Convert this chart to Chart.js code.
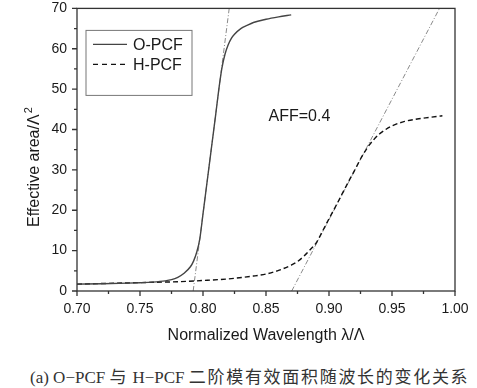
<!DOCTYPE html>
<html lang="en">
<head>
  <meta charset="UTF-8" />
  <title>O-PCF / H-PCF effective area</title>
  <script src="https://cdn.jsdelivr.net/npm/chart.js"></script>
  <style>
    body { margin: 0; background: #fff; }
    .wrap { position: relative; width: 477px; height: 388px; }
    #chart { position: absolute; left: 0; top: 0; }
    .caption {
      position: absolute; left: 30px; top: 363px; white-space: nowrap;
      font-family: "Liberation Serif", "DejaVu Serif", "Noto Sans CJK SC", serif;
      font-size: 17px; color: #333;
    }
    .caption .cjk { letter-spacing: 1.7px; }
  </style>
</head>
<body>
  <div class="wrap">
    <canvas id="chart" width="477" height="350"></canvas>
    <div class="caption">(a) O−PCF <span class="cjk">与</span> H−PCF <span class="cjk">二阶模有效面积随波长的变化关系</span></div>
  </div>

  <script>
    // values
    const oWave = [0.70, 0.72, 0.74, 0.75, 0.76, 0.77, 0.775, 0.78, 0.785, 0.79, 0.7925, 0.795, 0.7975,
                   0.80, 0.8025, 0.805, 0.8075, 0.81, 0.8125, 0.815, 0.8175, 0.82, 0.8225, 0.825,
                   0.83, 0.835, 0.84, 0.85, 0.86, 0.87];
    const oArea = [1.7, 1.8, 1.95, 2.05, 2.2, 2.5, 2.8, 3.4, 4.4, 6.0, 7.4, 9.6, 13.0,
                   19.1, 25.2, 31.3, 37.4, 43.5, 49.8, 55.2, 58.7, 61.0, 62.6, 63.6,
                   65.0, 65.8, 66.5, 67.3, 67.9, 68.4];

    const hWave = [0.70, 0.72, 0.74, 0.76, 0.78, 0.80, 0.82, 0.84, 0.85, 0.86, 0.87, 0.875, 0.88, 0.885,
                   0.89, 0.895, 0.90, 0.905, 0.91, 0.915, 0.92, 0.925, 0.93, 0.935, 0.94, 0.945,
                   0.95, 0.96, 0.97, 0.98, 0.99];
    const hArea = [1.7, 1.85, 2.0, 2.15, 2.3, 2.6, 3.0, 3.7, 4.2, 5.1, 6.4, 7.3, 8.6, 10.2,
                   12.0, 14.9, 17.9, 20.8, 23.8, 26.8, 29.7, 32.7, 35.3, 37.3, 38.9, 40.0,
                   40.9, 42.0, 42.6, 43.0, 43.4];

    // fitted straight lines (dash-dot)
    const oTangentWave = [0.7922, 0.8208];
    const hTangentWave = [0.8704, 0.9877];
    const tangentArea = [0, 70];

    const xTicks = [0.70, 0.75, 0.80, 0.85, 0.90, 0.95, 1.00];
    const yTicks = [0, 10, 20, 30, 40, 50, 60, 70];

    const seriesNames = ['O-PCF', 'H-PCF'];
    const yTitle = 'Effective area/Λ';
    const yTitleSup = '2';
    const noteText = 'AFF=0.4';
    const notePos = [0.8765, 43.2];

    const toPoints = (xs, ys) => xs.map((x, i) => ({ x: x, y: ys[i] }));

    const FONT = '"Liberation Sans", Arial, sans-serif';
    Chart.defaults.font.family = FONT;
    Chart.defaults.color = '#1a1a1a';

    // box around the plot + outward major/minor ticks
    const framePlugin = {
      id: 'frame',
      afterDraw(chart) {
        const { ctx, chartArea: a, scales: { x, y } } = chart;
        ctx.save();
        ctx.strokeStyle = '#333';
        ctx.lineWidth = 1.3;
        ctx.strokeRect(a.left, a.top, a.right - a.left, a.bottom - a.top);
        ctx.beginPath();
        for (let i = 0; i < xTicks.length; i++) {
          const px = x.getPixelForValue(xTicks[i]);
          ctx.moveTo(px, a.bottom); ctx.lineTo(px, a.bottom + 5);
          if (i < xTicks.length - 1) {
            const mx = x.getPixelForValue((xTicks[i] + xTicks[i + 1]) / 2);
            ctx.moveTo(mx, a.bottom); ctx.lineTo(mx, a.bottom + 3);
          }
        }
        for (let i = 0; i < yTicks.length; i++) {
          const py = y.getPixelForValue(yTicks[i]);
          ctx.moveTo(a.left, py); ctx.lineTo(a.left - 5, py);
          if (i < yTicks.length - 1) {
            const my = y.getPixelForValue((yTicks[i] + yTicks[i + 1]) / 2);
            ctx.moveTo(a.left, my); ctx.lineTo(a.left - 3, my);
          }
        }
        ctx.stroke();

        // y title with a raised 2
        ctx.translate(a.left - 42, (a.top + a.bottom) / 2 + 21);
        ctx.rotate(-Math.PI / 2);
        ctx.fillStyle = '#1a1a1a';
        ctx.textBaseline = 'middle';
        ctx.font = '16px ' + FONT;
        const w = ctx.measureText(yTitle).width;
        ctx.fillText(yTitle, -w / 2, 0);
        ctx.font = '11px ' + FONT;
        ctx.fillText(yTitleSup, w / 2 + 1, -6);
        ctx.restore();
      }
    };

    // framed legend in the upper left corner, plus the AFF note
    const legendPlugin = {
      id: 'boxLegend',
      afterDatasetsDraw(chart) {
        const { ctx, chartArea: a, scales: { x, y } } = chart;
        const bx = a.left + 9, by = a.top + 22, bw = 106, bh = 65;
        ctx.save();
        ctx.fillStyle = '#fff';
        ctx.fillRect(bx, by, bw, bh);
        ctx.strokeStyle = '#777';
        ctx.lineWidth = 1;
        ctx.strokeRect(bx, by, bw, bh);
        ctx.font = '16px ' + FONT;
        ctx.textBaseline = 'middle';
        seriesNames.forEach((name, i) => {
          const ds = chart.data.datasets[i];
          const ly = by + 14 + i * 20;
          ctx.beginPath();
          ctx.strokeStyle = ds.borderColor;
          ctx.lineWidth = ds.borderWidth;
          ctx.setLineDash(ds.borderDash ? [5, 4] : []);
          ctx.moveTo(bx + 7, ly); ctx.lineTo(bx + 41, ly);
          ctx.stroke();
          ctx.setLineDash([]);
          ctx.fillStyle = '#1a1a1a';
          ctx.fillText(name, bx + 47, ly + 1);
        });
        ctx.textAlign = 'center';
        ctx.fillText(noteText, x.getPixelForValue(notePos[0]), y.getPixelForValue(notePos[1]));
        ctx.restore();
      }
    };

    new Chart(document.getElementById('chart'), {
      type: 'scatter',
      data: {
        datasets: [
          { label: seriesNames[0], data: toPoints(oWave, oArea), showLine: true,
            borderColor: '#444', borderWidth: 1.4, pointRadius: 0, cubicInterpolationMode: 'monotone' },
          { label: seriesNames[1], data: toPoints(hWave, hArea), showLine: true,
            borderColor: '#111', borderWidth: 1.4, borderDash: [5, 3], pointRadius: 0, cubicInterpolationMode: 'monotone' },
          { label: 'O-PCF fit', data: toPoints(oTangentWave, tangentArea), showLine: true,
            borderColor: '#8a8a8a', borderWidth: 1, borderDash: [5, 2, 1, 2], pointRadius: 0 },
          { label: 'H-PCF fit', data: toPoints(hTangentWave, tangentArea), showLine: true,
            borderColor: '#8a8a8a', borderWidth: 1, borderDash: [5, 2, 1, 2], pointRadius: 0 }
        ]
      },
      options: {
        responsive: false,
        animation: false,
        layout: { padding: { top: 7, right: 22, left: 0, bottom: 0 } },
        plugins: {
          legend: { display: false },
          tooltip: { enabled: false }
        },
        scales: {
          x: {
            type: 'linear', min: 0.7, max: 1.0,
            afterBuildTicks: (s) => { s.ticks = xTicks.map(v => ({ value: v })); },
            afterFit: (s) => { s.height = 59; },
            ticks: { callback: v => v.toFixed(2), font: { size: 14 }, padding: 0, maxRotation: 0, autoSkip: false },
            grid: { display: false, drawTicks: true, tickLength: 10 },
            border: { display: false },
            title: { display: true, text: 'Normalized Wavelength λ/Λ', font: { size: 16 }, padding: { top: 4, bottom: 5 } }
          },
          y: {
            type: 'linear', min: 0, max: 70,
            afterBuildTicks: (s) => { s.ticks = yTicks.map(v => ({ value: v })); },
            afterFit: (s) => { s.width = 77; },
            ticks: { font: { size: 14 }, padding: 0, autoSkip: false },
            grid: { display: false, drawTicks: true, tickLength: 10 },
            border: { display: false },
            title: { display: false }
          }
        }
      },
      plugins: [framePlugin, legendPlugin]
    });
  </script>
</body>
</html>
